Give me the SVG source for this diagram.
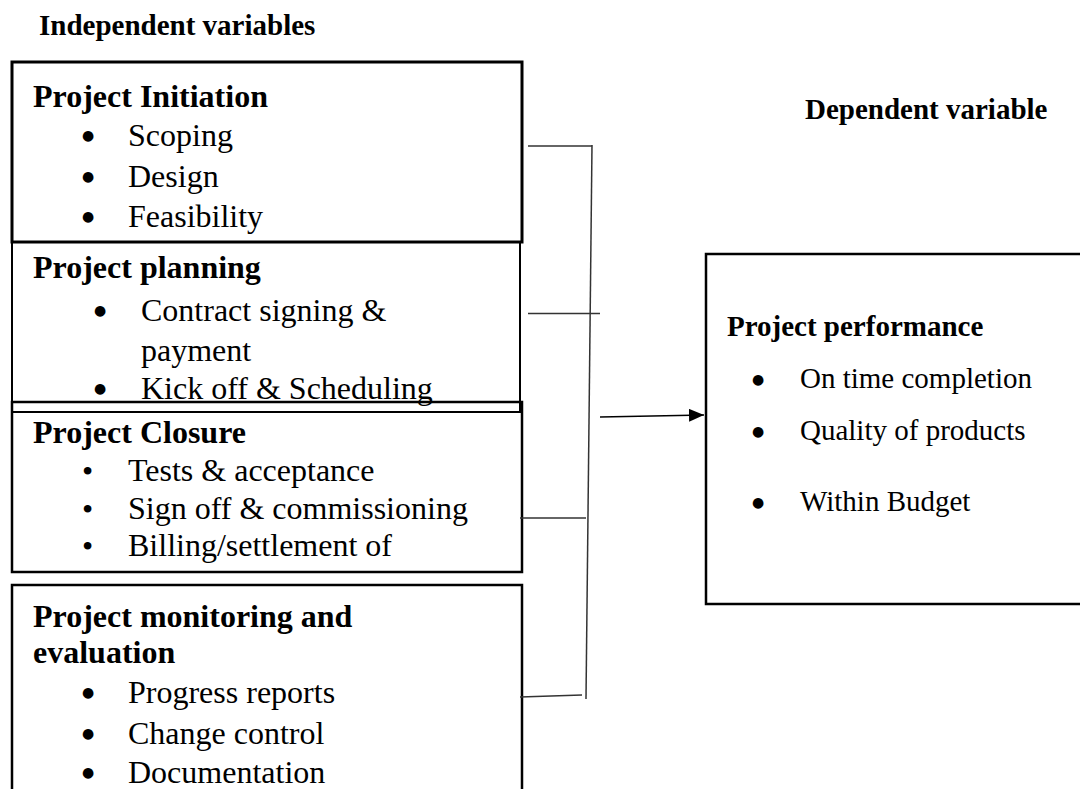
<svg xmlns="http://www.w3.org/2000/svg" width="1080" height="789" viewBox="0 0 1080 789">
<style>
  text { font-family: "Liberation Serif", "Times New Roman", serif; fill: #000; }
  .hdr { font-size: 29px; font-weight: bold; }
  .t { font-size: 32px; font-weight: bold; }
  .b { font-size: 32px; }
  .rt { font-size: 29px; font-weight: bold; }
  .rb { font-size: 29px; }
  .bl { font-family: "DejaVu Sans", sans-serif; font-size: 14px; text-anchor: middle; }
  .sb { font-size: 32px; }
  .box { fill: none; stroke: #000; }
  .conn { fill: none; stroke: #333; stroke-width: 1.5; }
</style>
<defs>
  <marker id="ah" viewBox="0 0 15 13" refX="15" refY="6.5" markerWidth="15" markerHeight="13" markerUnits="userSpaceOnUse" orient="auto">
    <path d="M0,0 L15,6.5 L0,13 Z" fill="#000"/>
  </marker>
</defs>
<rect width="1080" height="789" fill="#fff"/>

<text class="hdr" x="39" y="35">Independent variables</text>
<text class="hdr" x="805" y="119">Dependent variable</text>

<g id="initiation">
  <rect class="box" x="12" y="62" width="510" height="180" stroke-width="3"/>
  <text class="t" x="33" y="107">Project Initiation</text>
  <text class="bl" x="88" y="140">●</text><text class="b" x="128" y="146">Scoping</text>
  <text class="bl" x="88" y="181">●</text><text class="b" x="128" y="187">Design</text>
  <text class="bl" x="88" y="221">●</text><text class="b" x="128" y="227">Feasibility</text>
</g>

<g id="planning">
  <rect class="box" x="12" y="242" width="508" height="170" stroke-width="2"/>
  <text class="t" x="33" y="278">Project planning</text>
  <text class="bl" x="100" y="315">●</text><text class="b" x="141" y="321">Contract signing &amp;</text>
  <text class="b" x="141" y="361">payment</text>
  <text class="bl" x="100" y="393">●</text><text class="b" x="141" y="399">Kick off &amp; Scheduling</text>
</g>

<g id="closure">
  <rect class="box" x="12" y="402" width="510" height="170" stroke-width="2.5"/>
  <text class="t" x="33" y="443">Project Closure</text>
  <text class="sb" x="82" y="482">•</text><text class="b" x="128" y="481">Tests &amp; acceptance</text>
  <text class="sb" x="82" y="520">•</text><text class="b" x="128" y="519">Sign off &amp; commissioning</text>
  <text class="sb" x="82" y="557">•</text><text class="b" x="128" y="556">Billing/settlement of</text>
</g>

<g id="monitoring">
  <path class="box" d="M12,800 L12,585 L522,585 L522,800" stroke-width="2.5"/>
  <text class="t" x="33" y="627">Project monitoring and</text>
  <text class="t" x="33" y="663">evaluation</text>
  <text class="bl" x="88" y="697">●</text><text class="b" x="128" y="703">Progress reports</text>
  <text class="bl" x="88" y="738">●</text><text class="b" x="128" y="744">Change control</text>
  <text class="bl" x="88" y="777">●</text><text class="b" x="128" y="783">Documentation</text>
</g>

<g id="performance">
  <path class="box" d="M1090,254 L706,254 L706,604 L1090,604" stroke-width="2.5"/>
  <text class="rt" x="727" y="336">Project performance</text>
  <text class="bl" x="758" y="384">●</text><text class="rb" x="800" y="388">On time completion</text>
  <text class="bl" x="758" y="436">●</text><text class="rb" x="800" y="440">Quality of products</text>
  <text class="bl" x="758" y="507">●</text><text class="rb" x="800" y="511">Within Budget</text>
</g>

<g id="connectors">
  <line class="conn" x1="528" y1="146" x2="592" y2="146"/>
  <line class="conn" x1="528" y1="313.5" x2="600" y2="313.5"/>
  <line class="conn" x1="520" y1="518" x2="586" y2="518"/>
  <line class="conn" x1="520" y1="697" x2="582" y2="695"/>
  <line class="conn" x1="592" y1="145" x2="586" y2="699"/>
  <line x1="600" y1="417" x2="704" y2="415" stroke="#000" stroke-width="1.5" marker-end="url(#ah)"/>
</g>
</svg>
